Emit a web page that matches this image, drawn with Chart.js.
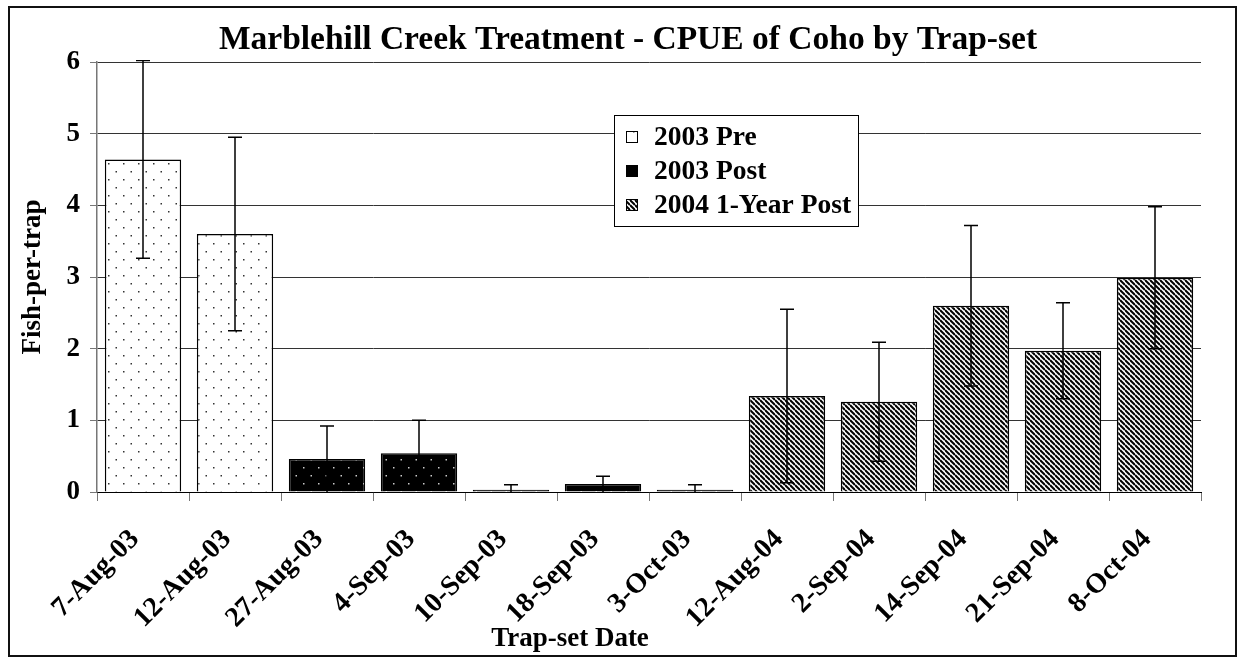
<!DOCTYPE html>
<html>
<head>
<meta charset="utf-8">
<script src="https://cdn.jsdelivr.net/npm/chart.js@4/dist/chart.umd.min.js"></script>
<style>
  html, body { margin: 0; padding: 0; background: #fff; }
  #wrap { width: 1238px; height: 663px; position: relative; }
</style>
</head>
<body>
<div id="wrap"><canvas id="cpue_chart"></canvas></div>
<script>
// values
const trapDates = ['7-Aug-03', '12-Aug-03', '27-Aug-03', '4-Sep-03', '10-Sep-03', '18-Sep-03',
                   '3-Oct-03', '12-Aug-04', '2-Sep-04', '14-Sep-04', '21-Sep-04', '8-Oct-04'];
const pre2003  = [4.64, 3.60, null, null, null, null, null, null, null, null, null, null];
const post2003 = [null, null, 0.46, 0.54, 0.03, 0.11, 0.03, null, null, null, null, null];
const post2004 = [null, null, null, null, null, null, null, 1.34, 1.26, 2.60, 1.97, 2.99];
// +/- error (same for both sides)
const errorSize = [1.38, 1.35, 0.46, 0.46, 0.07, 0.11, 0.07, 1.21, 0.83, 1.12, 0.67, 0.99];
const yTicks = [0, 1, 2, 3, 4, 5, 6];

const chartTitle = 'Marblehill Creek Treatment - CPUE of Coho by Trap-set';
const xTitle = 'Trap-set Date';
const yTitle = 'Fish-per-trap';

const FONT = '"Liberation Serif", "Times New Roman", serif';

// fill patterns
function dotPattern(bg, dot) {
    const c = document.createElement('canvas');
    c.width = 15; c.height = 16;
    const g = c.getContext('2d');
    g.fillStyle = bg;
    g.fillRect(0, 0, 15, 16);
    g.fillStyle = dot;
    g.fillRect(3, 3, 1.5, 1.5);
    g.fillRect(10.5, 11, 1.5, 1.5);
    return g.createPattern(c, 'repeat');
}
function stripePattern() {
    const n = 5;
    const c = document.createElement('canvas');
    c.width = n; c.height = n;
    const g = c.getContext('2d');
    g.fillStyle = '#fff';
    g.fillRect(0, 0, n, n);
    g.strokeStyle = '#000';
    g.lineWidth = 2;
    for (let k = -1; k <= 1; k++) {
        g.beginPath();
        g.moveTo(0, k * n);
        g.lineTo(n, n + k * n);
        g.stroke();
    }
    return g.createPattern(c, 'repeat');
}
const prePattern = dotPattern('#fff', '#333');
const postPattern = dotPattern('#000', '#ccc');
const yearPattern = stripePattern();

const extras = {
    id: 'extras',
    afterDatasetsDraw(chart) {
        const ctx = chart.ctx;
        const y = chart.scales.y;
        const area = chart.chartArea;
        ctx.save();
        ctx.beginPath();
        ctx.rect(area.left, area.top - 2, area.right - area.left, area.bottom - area.top + 2);
        ctx.clip();
        ctx.strokeStyle = '#000';
        ctx.lineWidth = 1.5;
        chart.data.datasets.forEach((ds, di) => {
            const meta = chart.getDatasetMeta(di);
            ds.data.forEach((v, i) => {
                if (v === null) return;
                const bar = meta.data[i];
                const hi = y.getPixelForValue(v + errorSize[i]);
                const lo = y.getPixelForValue(Math.max(v - errorSize[i], 0));
                ctx.beginPath();
                ctx.moveTo(bar.x, hi); ctx.lineTo(bar.x, lo);
                ctx.moveTo(bar.x - 7, hi); ctx.lineTo(bar.x + 7, hi);
                if (v - errorSize[i] > 0) { ctx.moveTo(bar.x - 7, lo); ctx.lineTo(bar.x + 7, lo); }
                ctx.stroke();
            });
        });
        ctx.restore();
    },
    afterDraw(chart) {
        const ctx = chart.ctx;
        ctx.save();
        ctx.fillStyle = '#000';
        ctx.textAlign = 'center';
        ctx.textBaseline = 'alphabetic';
        ctx.font = 'bold 33.5px ' + FONT;
        ctx.fillText(chartTitle, 628, 49);
        ctx.font = 'bold 27px ' + FONT;
        ctx.fillText(xTitle, 570, 646);

        // legend box
        const lx = 614, ly = 115, lw = 244, lh = 111;
        ctx.fillStyle = '#fff';
        ctx.fillRect(lx, ly, lw, lh);
        ctx.strokeStyle = '#000';
        ctx.lineWidth = 1;
        ctx.strokeRect(lx + 0.5, ly + 0.5, lw, lh);
        ctx.font = 'bold 27.5px ' + FONT;
        ctx.textAlign = 'left';
        ctx.textBaseline = 'middle';
        chart.data.datasets.forEach((ds, i) => {
            const cy = 137 + i * 34;
            ctx.fillStyle = ds.backgroundColor;
            ctx.fillRect(626, cy - 6, 12, 12);
            ctx.strokeRect(626.5, cy - 5.5, 11, 11);
            ctx.fillStyle = '#000';
            ctx.fillText(ds.label, 654, cy + 1);
        });

        // outer frame
        ctx.lineWidth = 2;
        ctx.strokeStyle = '#111';
        ctx.strokeRect(9, 7, 1227, 649);
        ctx.restore();
    }
};

new Chart(document.getElementById('cpue_chart'), {
    type: 'bar',
    data: {
        labels: trapDates,
        datasets: [
            { label: '2003 Pre', data: pre2003, backgroundColor: prePattern },
            { label: '2003 Post', data: post2003, backgroundColor: postPattern },
            { label: '2004 1-Year Post', data: post2004, backgroundColor: yearPattern }
        ]
    },
    options: {
        responsive: true,
        maintainAspectRatio: false,
        animation: false,
        devicePixelRatio: 1,
        layout: { padding: { top: 62, right: 37, bottom: 0, left: 0 } },
        datasets: {
            bar: {
                grouped: false,
                categoryPercentage: 1,
                barPercentage: 0.83,
                borderColor: '#000',
                borderWidth: 1.5
            }
        },
        plugins: {
            legend: { display: false },
            tooltip: { enabled: false },
            title: { display: false }
        },
        scales: {
            x: {
                grid: { display: true, drawOnChartArea: false, drawTicks: true, tickLength: 9, color: '#777', offset: true },
                border: { display: true, color: '#000', width: 1 },
                ticks: {
                    font: { family: FONT, size: 28, weight: 'bold' },
                    color: '#000',
                    minRotation: 45,
                    maxRotation: 45,
                    autoSkip: false,
                    padding: 22,
                    labelOffset: -8
                },
                afterFit(scale) { scale.height = 171; }
            },
            y: {
                min: 0,
                max: 6,
                afterBuildTicks(scale) { scale.ticks = yTicks.map(v => ({ value: v })); },
                ticks: {
                    font: { family: FONT, size: 27, weight: 'bold' },
                    color: '#000',
                    padding: 10
                },
                grid: { color: '#333', lineWidth: 1, tickLength: 7, tickColor: '#777' },
                border: { display: true, color: '#777', width: 1.5 },
                title: {
                    display: true,
                    text: yTitle,
                    color: '#000',
                    font: { family: FONT, size: 27, weight: 'bold' },
                    padding: { top: 17, bottom: 0 }
                },
                afterFit(scale) { scale.width = 97; }
            }
        }
    },
    plugins: [extras]
});
</script>
</body>
</html>
